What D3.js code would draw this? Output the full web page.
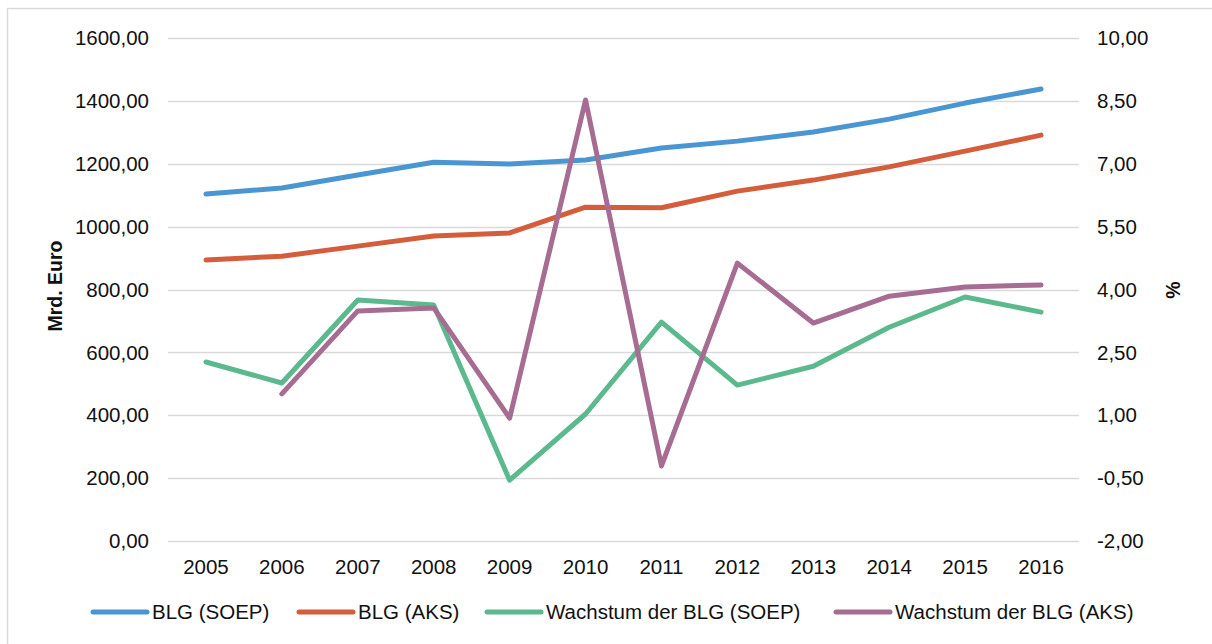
<!DOCTYPE html>
<html>
<head>
<meta charset="utf-8">
<script src="https://cdn.jsdelivr.net/npm/d3@7"></script>
<style>
  body { margin: 0; background: #fff; }
  svg { display: block; font-family: "Liberation Sans", Arial, sans-serif; }
</style>
</head>
<body>
<div id="chart"></div>
<script>
// Daten
const years = ['2005','2006','2007','2008','2009','2010','2011','2012','2013','2014','2015','2016'];
const blgSoep = [1104, 1123, 1164, 1205, 1199, 1212, 1250, 1272, 1301, 1342, 1393, 1438];
const blgAks = [894, 906, 938, 970, 980, 1062, 1060, 1113, 1148, 1190, 1240, 1291];
const growthSoep = [2.27, 1.77, 3.75, 3.63, -0.55, 1.03, 3.22, 1.72, 2.17, 3.10, 3.82, 3.46];
const growthAks = [null, 1.51, 3.49, 3.56, 0.93, 8.52, -0.21, 4.63, 3.20, 3.84, 4.06, 4.11];
const leftTicks = [0, 200, 400, 600, 800, 1000, 1200, 1400, 1600];
const rightTicks = [-2, -0.5, 1, 2.5, 4, 5.5, 7, 8.5, 10];
const seriesNames = ['BLG (SOEP)', 'BLG (AKS)', 'Wachstum der BLG (SOEP)', 'Wachstum der BLG (AKS)'];

const colors = ['#4a96d3', '#d45d3b', '#5cb98e', '#a76c91'];
const width = 1212, height = 644;
const plot = { left: 168, right: 1079, top: 38, bottom: 541 };
const fontSize = '20.5px';

const svg = d3.select('#chart').append('svg')
    .attr('width', width)
    .attr('height', height);

// Rahmen
svg.append('rect')
    .attr('x', 7.5).attr('y', 8.5)
    .attr('width', 1220).attr('height', 660)
    .attr('fill', 'none')
    .attr('stroke', '#d9d9d9')
    .attr('stroke-width', 1.5);

const x = d3.scaleBand()
    .domain(years)
    .range([plot.left, plot.right]);

const yLeft = d3.scaleLinear().domain([0, 1600]).range([plot.bottom, plot.top]);
const yRight = d3.scaleLinear().domain([-2, 10]).range([plot.bottom, plot.top]);

const fmt = v => d3.format('.2f')(v).replace('.', ',').replace('\u2212', '-');

// Gitterlinien
svg.append('g')
    .selectAll('line')
    .data(leftTicks)
    .enter().append('line')
    .attr('x1', plot.left).attr('x2', plot.right)
    .attr('y1', d => Math.round(yLeft(d)) + 0.5)
    .attr('y2', d => Math.round(yLeft(d)) + 0.5)
    .attr('stroke', '#d9d9d9')
    .attr('stroke-width', 1.3);

// Achsenbeschriftungen
svg.append('g')
    .selectAll('text')
    .data(leftTicks)
    .enter().append('text')
    .attr('x', 149)
    .attr('y', d => yLeft(d))
    .attr('dy', '0.35em')
    .attr('text-anchor', 'end')
    .style('font-size', fontSize)
    .style('fill', '#111')
    .text(fmt);

svg.append('g')
    .selectAll('text')
    .data(rightTicks)
    .enter().append('text')
    .attr('x', 1097)
    .attr('y', d => yRight(d))
    .attr('dy', '0.35em')
    .attr('text-anchor', 'start')
    .style('font-size', fontSize)
    .style('fill', '#111')
    .text(fmt);

svg.append('g')
    .selectAll('text')
    .data(years)
    .enter().append('text')
    .attr('x', d => x(d) + x.bandwidth() / 2)
    .attr('y', 574)
    .attr('text-anchor', 'middle')
    .style('font-size', fontSize)
    .style('fill', '#111')
    .text(d => d);

// Achsentitel
svg.append('text')
    .attr('transform', 'translate(62,286) rotate(-90)')
    .attr('text-anchor', 'middle')
    .style('font-size', '19.5px')
    .style('font-weight', 'bold')
    .style('fill', '#111')
    .text('Mrd. Euro');

svg.append('text')
    .attr('transform', 'translate(1180,290) rotate(-90)')
    .attr('text-anchor', 'middle')
    .style('font-size', '19.5px')
    .style('font-weight', 'bold')
    .style('fill', '#111')
    .text('%');

// Linien
const series = [
    { values: blgSoep, scale: yLeft },
    { values: blgAks, scale: yLeft },
    { values: growthSoep, scale: yRight },
    { values: growthAks, scale: yRight }
];

series.forEach((s, i) => {
    const line = d3.line()
        .defined(d => d != null)
        .x((d, j) => x(years[j]) + x.bandwidth() / 2)
        .y(d => s.scale(d));
    svg.append('path')
        .datum(s.values)
        .attr('d', line)
        .attr('fill', 'none')
        .attr('stroke', colors[i])
        .attr('stroke-width', 5)
        .attr('stroke-linejoin', 'round')
        .attr('stroke-linecap', 'round');
});

// Legende
const legendX = [93, 299, 487, 836];
const legend = svg.append('g')
    .selectAll('g')
    .data(seriesNames)
    .enter().append('g')
    .attr('transform', (d, i) => `translate(${legendX[i]},612)`);

legend.append('line')
    .attr('x1', 0).attr('x2', 54)
    .attr('stroke', (d, i) => colors[i])
    .attr('stroke-width', 5)
    .attr('stroke-linecap', 'round');

legend.append('text')
    .attr('x', 59)
    .attr('dy', '0.35em')
    .style('font-size', fontSize)
    .style('fill', '#111')
    .text(d => d);
</script>
</body>
</html>
